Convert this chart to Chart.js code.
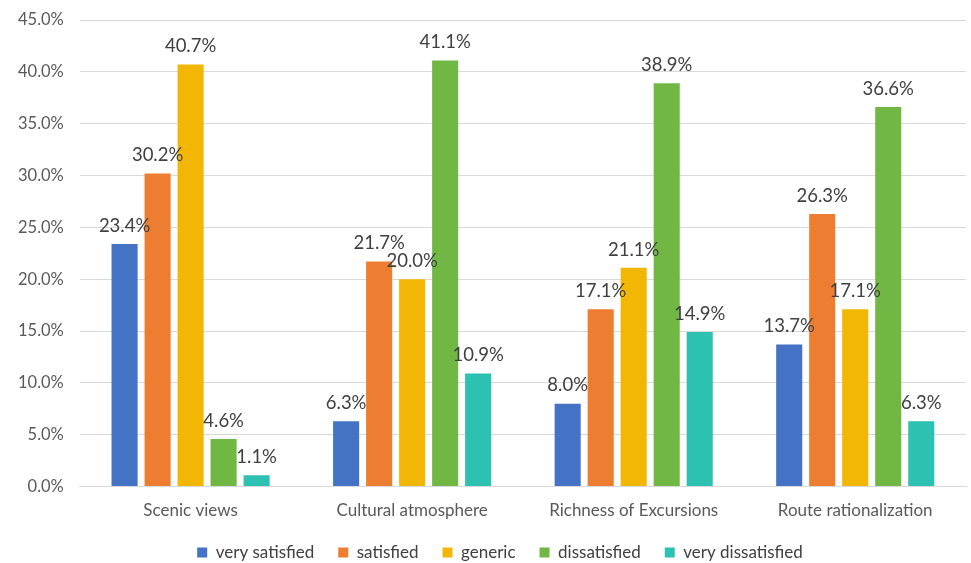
<!DOCTYPE html>
<html>
<head>
<meta charset="utf-8">
<script src="https://cdn.jsdelivr.net/npm/chart.js@4/dist/chart.umd.min.js"></script>
<style>
  html, body { margin: 0; padding: 0; background: #ffffff; }
  #wrap { width: 971px; height: 563px; position: relative; }
</style>
</head>
<body>
<div id="wrap"><canvas id="c" width="971" height="563"></canvas></div>
<script>
const categories = ["Scenic views", "Cultural atmosphere", "Richness of Excursions", "Route rationalization"];
const seriesNames = ["very satisfied", "satisfied", "generic", "dissatisfied", "very dissatisfied"];
const verySatisfied = [23.4, 6.3, 8.0, 13.7];
const satisfied = [30.2, 21.7, 17.1, 26.3];
const generic = [40.7, 20.0, 21.1, 17.1];
const dissatisfied = [4.6, 41.1, 38.9, 36.6];
const veryDissatisfied = [1.1, 10.9, 14.9, 6.3];
const colors = ["#4472C4", "#ED7D31", "#F2B705", "#70B843", "#2CC1B1"];

const seriesValues = [verySatisfied, satisfied, generic, dissatisfied, veryDissatisfied];
const FONT = "Lato, 'Open Sans', 'Liberation Sans', sans-serif";

const labelPlugin = {
  id: 'valueLabels',
  afterDatasetsDraw(chart) {
    const ctx = chart.ctx;
    ctx.save();
    ctx.font = "18.5px " + FONT;
    ctx.fillStyle = "#404040";
    ctx.textAlign = "center";
    ctx.textBaseline = "bottom";
    chart.data.datasets.forEach((ds, i) => {
      const meta = chart.getDatasetMeta(i);
      meta.data.forEach((el, j) => {
        ctx.fillText(ds.data[j].toFixed(1) + "%", el.x, el.y - 9);
      });
    });
    ctx.restore();
  }
};

const legendShift = {
  id: 'legendShift',
  afterLayout(chart) {
    const lg = chart.legend;
    if (lg) {
      lg.top -= 15; lg.bottom -= 15;
      lg.left += 16; lg.right += 16;
    }
  }
};

new Chart(document.getElementById('c'), {
  type: 'bar',
  data: {
    labels: categories,
    datasets: seriesNames.map((n, i) => ({
      label: n,
      data: seriesValues[i],
      backgroundColor: colors[i],
      borderWidth: 0,
      categoryPercentage: 0.745,
      barPercentage: 0.79
    }))
  },
  options: {
    responsive: false,
    animation: false,
    devicePixelRatio: 1,
    layout: { padding: { left: 2, right: 5, top: 20, bottom: -23 } },
    plugins: {
      legend: {
        position: 'bottom',
        labels: {
          boxWidth: 10, boxHeight: 10, padding: 24,
          color: "#404040",
          font: { family: FONT, size: 17 }
        }
      },
      tooltip: { enabled: false }
    },
    scales: {
      x: {
        grid: { display: false, drawTicks: false },
        border: { color: "#d9d9d9", width: 1 },
        ticks: { color: "#595959", font: { family: FONT, size: 17 }, padding: 14 }
      },
      y: {
        min: 0, max: 45,
        grid: { color: "#d9d9d9", drawTicks: false },
        border: { display: false },
        afterFit: (scale) => { scale.paddingTop = 0; },
        ticks: {
          stepSize: 5,
          color: "#595959",
          font: { family: FONT, size: 16.5 },
          padding: 16,
          callback: v => Number(v).toFixed(1) + "%"
        }
      }
    }
  },
  plugins: [labelPlugin, legendShift]
});
</script>
</body>
</html>
